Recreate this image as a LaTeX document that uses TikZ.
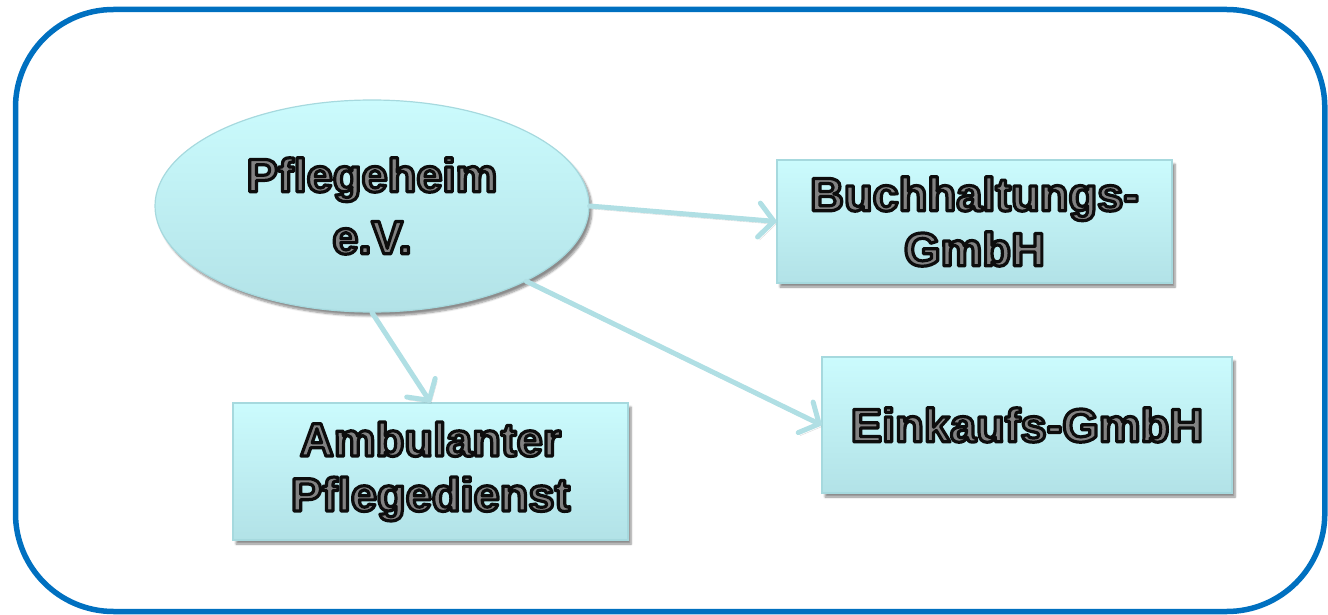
\documentclass[tikz,border=0pt]{standalone}
\usepackage{fontspec}
\setmainfont{Liberation Sans}
\usetikzlibrary{arrows.meta,shapes.geometric,shadows.blur}
\definecolor{framec}{HTML}{0070C0}
\definecolor{topc}{HTML}{CBFBFD}
\definecolor{botc}{HTML}{B2E2E7}
\definecolor{edgec}{HTML}{A6D9DE}
\definecolor{arrowc}{HTML}{B0DFE4}
\definecolor{txtgray}{HTML}{828282}
% outlined lettering: fill in the current colour, stroke in black
\newcommand\olabel[1]{{\special{pdf:code 2 Tr 3.2 w 1 j 0.05 0.05 0.05 RG}#1\special{pdf:code 0 Tr}}}
\begin{document}
\begin{tikzpicture}[x=1pt,y=-1pt,
  unit/.style={draw=edgec, line width=1.2pt, top color=topc, bottom color=botc,
    align=center, inner sep=0pt, text=txtgray,
    font=\bfseries\fontsize{47}{55}\selectfont,
    blur shadow={shadow xshift=3pt, shadow yshift=-4pt, shadow opacity=45, shadow blur steps=6}},
  box/.style={unit, rectangle},
  oval/.style={unit, ellipse},
  link/.style={draw=arrowc, line width=5pt, line cap=round,
    -{Straight Barb[length=15pt,width=34pt,round]},
    preaction={draw=black!60, opacity=0.25, transform canvas={shift={(2pt,-3pt)}}}}]
  \useasboundingbox (0,0) rectangle (1328,615);
  % outer frame
  \draw[framec, line width=5.5pt, rounded corners=98pt] (15.5,9.5) rectangle (1324.8,611.5);
  % units
  \node[oval, minimum width=434pt, minimum height=212pt,
        font=\bfseries\fontsize{47}{62}\selectfont] (ev) at (372,206)
        {\olabel{Pflegeheim}\\\olabel{e.V.}};
  \node[box, minimum width=395pt, minimum height=123pt] (buch) at (974.5,221.5)
        {\olabel{Buchhaltungs-}\\\olabel{GmbH}};
  \node[box, minimum width=395pt, minimum height=137pt] (amb) at (430.5,471.5)
        {\olabel{Ambulanter}\\\olabel{Pflegedienst}};
  \node[box, minimum width=410pt, minimum height=136pt] (eink) at (1027,425)
        {\olabel{Einkaufs-GmbH}};
  % connectors
  \draw[link] (ev.east) -- (buch.west);
  \draw[link] (ev.south) -- (amb.north);
  \draw[link] (ev.-26) -- (eink.west);
\end{tikzpicture}
\end{document}
